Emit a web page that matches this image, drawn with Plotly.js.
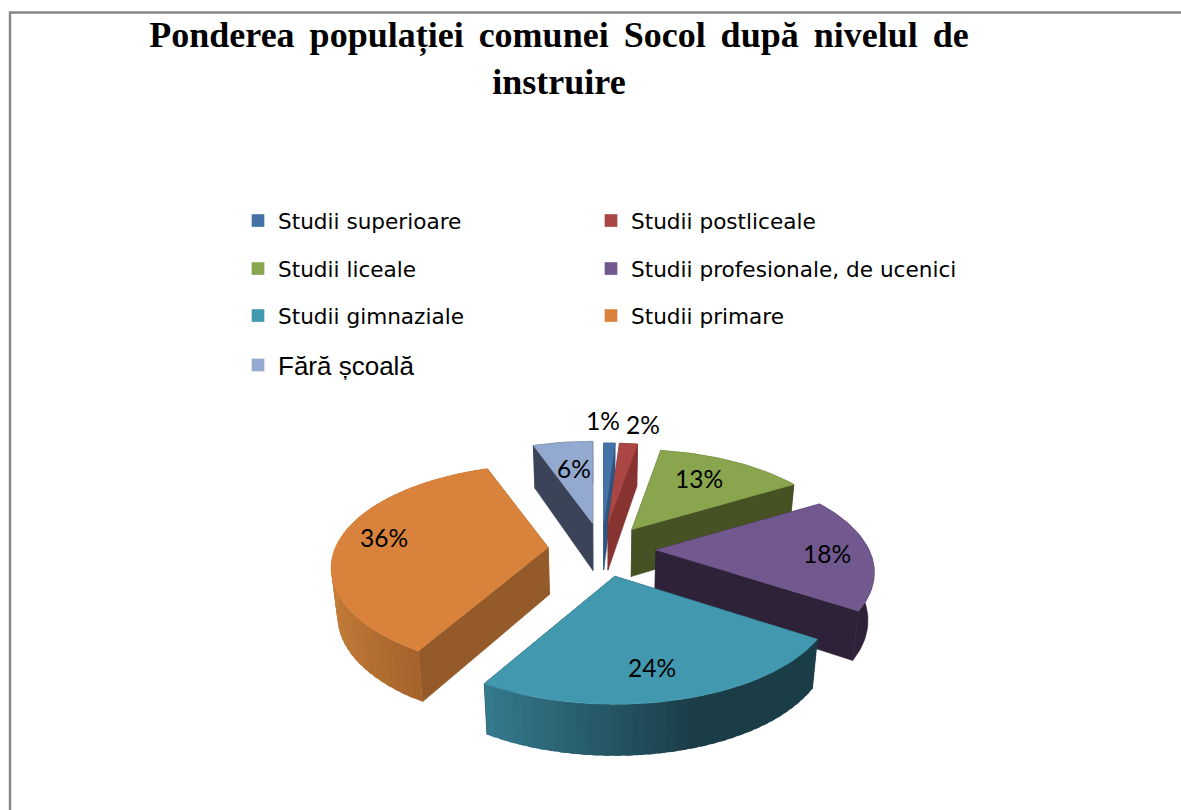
<!DOCTYPE html>
<html><head><meta charset="utf-8">
<script src="https://cdn.plot.ly/plotly-3.0.1.min.js"></script>
<style>html,body{margin:0;padding:0;background:#fff}</style></head>
<body><div id="chart" style="width:1181px;height:810px"></div>
<script>
// ---- data ----
const categories = ["Studii superioare","Studii postliceale","Studii liceale","Studii profesionale, de ucenici","Studii gimnaziale","Studii primare","Fără școală"];
const shares = [1.0,1.6,13.4,17.8,24.4,35.9,5.5];
const gap = "\u00A0\u2006";
const chartTitle = ["Ponderea","populației","comunei","Socol","după","nivelul","de"].join(gap)+"<br>instruire";
// ---- styles ----
const topColors  = ["#4572A7","#AA4643","#89A54E","#71588F","#4198AF","#D9823C","#93A9CF"];
const wallColors = ["#2F5480","#863331","#465224","#2D2238","#1A3D48","#945A2A","#3A4358"];
const labelX = [603,643,699,827,652,384,574];
const labelY = [420,424,478,553,667,537,468];
const legendX = [238,591,238,591,238,591,238];
const legendY = [221,221,269,269,316,316,365];
const drawOrder = [6,0,1,2,3,5,4];
// small per-slice corrections of the drawn perspective
const rimScaleX = [1,1,0.98,0.99,0.99,0.985,0.96];
const rimShiftY = [0,0,0,-1,1,-3,-2];
const apexShiftY = [0,0,2,0,0,0,0];
// ---- projection of the tilted disc on the hidden pixel axes ----
const cx=602, cy=550, explodeX=54, explodeY=27, A=216, B=99.4, k=0.2, c0=2.8, shrink=0.977;
const total = shares.reduce((a,b)=>a+b,0);
const rad = d=>d*Math.PI/180;
function rimTop(i,apex,deg){const u=Math.sin(rad(deg)),v=Math.cos(rad(deg));const w=1+k*v;return [apex[0]+rimScaleX[i]*A*u/w, apex[1]-B*v/w+c0+rimShiftY[i]];}
function down(p,v){return [cx+(p[0]-cx)*shrink, p[1]+47-4.5*v];}
function hex(c){return [1,3,5].map(i=>parseInt(c.substr(i,2),16));}
function mix(a,b,t){t=Math.max(0,Math.min(1,t));const A1=hex(a),B1=hex(b);return 'rgb('+A1.map((x,i)=>Math.round(x+(B1[i]-x)*t)).join(',')+')';}
function rimColor(i,deg){
  const u=Math.sin(rad(deg));
  if(i===4) return mix("#357A8E","#1A3D48",(u+0.5)/0.8);
  return mix("#C67E3A","#A5622A",(u+1)/0.5);
}
function poly(pts,color,group,lw){
  return {type:'scatter',mode:'lines',x:pts.map(p=>p[0]).concat([pts[0][0]]),y:pts.map(p=>p[1]).concat([pts[0][1]]),
    fill:'toself',fillcolor:color,line:{color:color,width:lw===undefined?0.6:lw},showlegend:false,hoverinfo:'skip',legendgroup:group};
}
function arc(i,apex,d0,d1,n){const o=[];for(let s=0;s<=n;s++)o.push(rimTop(i,apex,d0+(d1-d0)*s/n));return o;}
function arcDown(pts,d0,d1){const n=pts.length-1;return pts.map((p,s)=>down(p,Math.cos(rad(d0+(d1-d0)*s/n))));}
// ---- slices ----
let cum=0; const spans=shares.map(s=>{const a=cum/total*360;cum+=s;return [a,cum/total*360];});
const traces=[];
drawOrder.forEach(i=>{
  const [a0,a1]=spans[i], mid=rad((a0+a1)/2), g=categories[i];
  const apex=[cx+explodeX*Math.sin(mid), cy-explodeY*Math.cos(mid)+apexShiftY[i]];
  const bApex=down(apex,0);
  const c0p=rimTop(i,apex,a0), c1p=rimTop(i,apex,a1);
  traces.push(poly([apex,c0p,down(c0p,Math.cos(rad(a0))),bApex],wallColors[i],g));
  traces.push(poly([apex,c1p,down(c1p,Math.cos(rad(a1))),bApex],wallColors[i],g));
  const n=Math.max(4,Math.ceil((a1-a0)/1.5));
  if(i===4||i===5){
    // shaded outer wall: overlapping strips, later ones cover the seam of the earlier
    const strips=Math.ceil((a1-a0)/2.5);
    for(let s=0;s<strips;s++){
      const d0=a0+(a1-a0)*s/strips, d1=Math.min(a1,a0+(a1-a0)*(s+1.6)/strips);
      const top=arc(i,apex,d0,d1,3), bot=arcDown(top,d0,d1).reverse();
      traces.push(poly(top.concat(bot),rimColor(i,d0+(a1-a0)*0.5/strips),g,0));
    }
  } else {
    const top=arc(i,apex,a0,a1,n), bot=arcDown(top,a0,a1).reverse();
    traces.push(poly(top.concat(bot),wallColors[i],g));
  }
  traces.push(poly([apex].concat(arc(i,apex,a0,a1,n)),topColors[i],g));
});
// ---- legend entries, one small legend per cell of the two-column grid ----
const layoutLegends={};
categories.forEach((name,i)=>{
  const key=i===0?'legend':'legend'+(i+1);
  traces.push({type:'scatter',mode:'markers',x:[null],y:[null],name:name,legend:key,legendgroup:name,showlegend:true,hoverinfo:'skip',
    marker:{symbol:'square',size:13,color:topColors[i],line:{color:'rgba(255,255,255,0.35)',width:1}}});
  layoutLegends[key]={x:legendX[i]/1181,y:1-legendY[i]/810,xanchor:'left',yanchor:'middle',bgcolor:'rgba(0,0,0,0)',borderwidth:0,
    itemsizing:'trace',font:{family:i===6?'"Liberation Sans"':'"DejaVu Sans"',size:i===6?26:21.6,color:'#000'}};
});
const annotations=shares.map((s,i)=>({xref:'x',yref:'y',x:labelX[i],y:labelY[i],text:Math.round(s/total*100)+'%',showarrow:false,
  xanchor:'center',yanchor:'middle',font:{family:'Lato',size:24.5,color:'#000'}}));
const layout=Object.assign({
  width:1181,height:810,autosize:false,margin:{l:0,r:0,t:0,b:0,pad:0},paper_bgcolor:'#fff',plot_bgcolor:'#fff',
  title:{text:chartTitle,x:559/1181,xanchor:'center',xref:'paper',y:1-47/810,yanchor:'top',yref:'paper',font:{family:'"Liberation Serif"',size:36,color:'#000',weight:700}},
  xaxis:{range:[0,1181],visible:false,fixedrange:true},
  yaxis:{range:[810,0],visible:false,fixedrange:true},
  annotations:annotations,
  shapes:[{type:'path',xref:'x',yref:'y',path:'M10,810 L10,12.5 L1181,12.5',line:{color:'#868686',width:2.4},fillcolor:'rgba(0,0,0,0)'}],
  hovermode:false,showlegend:true
},layoutLegends);
Plotly.newPlot('chart',traces,layout,{displayModeBar:false,staticPlot:true});
</script></body></html>
